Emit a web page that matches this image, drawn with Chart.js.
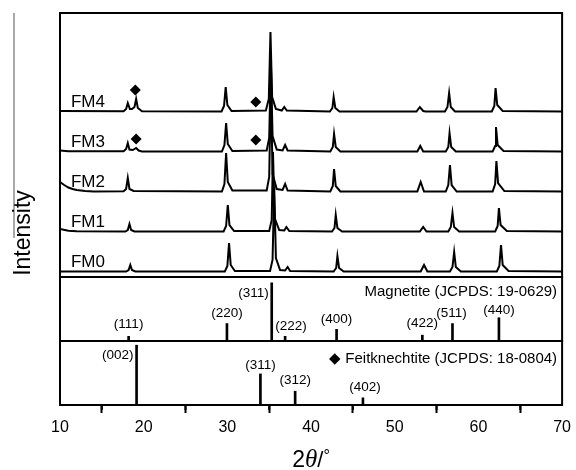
<!DOCTYPE html>
<html>
<head>
<meta charset="utf-8">
<script src="https://cdn.jsdelivr.net/npm/chart.js@4.4.1/dist/chart.umd.min.js"></script>
<style>
  html, body { margin: 0; padding: 0; background: #fff; }
</style>
</head>
<body>
<canvas id="xrd" width="576" height="470"></canvas>
<script>
// Muestras, de abajo hacia arriba
const sampleNames = ['FM0', 'FM1', 'FM2', 'FM3', 'FM4'];
const sampleOffsets = [0, 40, 80, 120, 160];

// Difractogramas [2θ, intensidad relativa a la línea base]
const fm0 = [[10,0.5],[17.9,0.5],[18.2,2],[18.4,7],[18.6,2],[19,0.5],
  [29.7,0.5],[30.0,6],[30.2,29],[30.4,7],[30.9,1],
  [35.1,1],[35.4,12],[35.6,85],[35.8,14],[36.3,2],[36.9,1.5],[37.2,5],[37.5,1],
  [42.7,0.5],[43.0,4],[43.15,16],[43.35,4],[43.9,0.5],
  [53.1,0.5],[53.5,7],[53.9,0.5],
  [56.6,0.5],[56.9,5],[57.1,20],[57.3,5],[57.9,0.5],
  [62.2,0.5],[62.5,6],[62.7,27],[62.9,7],[63.6,1],[70,0.5]];

const fm1 = [[10,3],[11,1.2],[12,0.7],[17.8,0.5],[18.1,2],[18.3,8],[18.5,2],[18.9,0.5],
  [29.55,0.5],[29.85,6],[30.05,27],[30.25,7],[30.8,1],
  [35.0,1],[35.3,12],[35.45,80],[35.65,14],[36.2,2],[36.8,1.5],[37.05,5],[37.4,1],
  [42.5,0.5],[42.8,4],[42.95,17],[43.15,4],[43.7,0.5],
  [53.0,0.5],[53.4,5],[53.8,0.5],
  [56.4,0.5],[56.7,5],[56.9,19],[57.1,5],[57.7,0.5],
  [62.0,0.5],[62.3,6],[62.45,24],[62.65,7],[63.4,1],[70,0.5]];

const fm2 = [[10,10],[10.5,7],[11,4.5],[11.5,3],[12,2],[13,1],[14,0.5],
  [17.6,0.8],[17.9,3],[18.1,14],[18.3,3],[18.8,1],
  [29.35,0.5],[29.65,8],[29.85,39],[30.05,10],[30.6,1.5],
  [34.7,1.5],[35.0,15],[35.2,110],[35.4,18],[35.9,3],[36.6,2],[36.9,8],[37.2,1.5],
  [42.3,0.5],[42.6,6],[42.75,23],[42.95,6],[43.5,0.5],
  [52.7,0.5],[53.1,10],[53.5,0.5],
  [56.1,0.5],[56.4,7],[56.6,27],[56.8,7],[57.4,0.5],
  [61.7,0.5],[62.0,8],[62.15,31],[62.35,9],[63.1,1],[70,0.5]];

const fm3 = [[10,1.5],[11,0.8],[17.6,0.7],[17.9,3],[18.1,9],[18.3,2.5],[18.7,2],[19.1,4],[19.4,1.5],[19.8,0.5],
  [29.35,0.5],[29.65,7],[29.85,29],[30.05,8],[30.6,1],
  [34.7,1.5],[35.0,14],[35.2,90],[35.4,16],[35.9,2.5],[36.6,1.5],[36.9,7],[37.2,1.5],
  [42.3,0.5],[42.6,5],[42.75,18],[42.95,5],[43.5,0.5],
  [52.7,0.5],[53.05,6],[53.4,0.5],
  [56.1,0.5],[56.4,5],[56.55,19],[56.75,5],[57.3,0.5],
  [61.7,0.5],[62.0,6],[62.1,25],[62.3,7],[63.0,1],[70,0.5]];

const fm4 = [[10,1],[17.6,0.7],[17.9,3],[18.1,9],[18.35,3],[18.6,3],[18.9,5],[19.1,13],[19.3,4],[19.8,0.8],
  [29.3,0.5],[29.6,6],[29.8,25],[30.0,7],[30.5,1],
  [34.6,1.5],[34.95,13],[35.15,80],[35.35,15],[35.8,3],[36.5,1.5],[36.8,5],[37.1,1.5],
  [42.25,0.5],[42.55,4],[42.7,15],[42.9,4],[43.4,0.5],
  [52.6,0.5],[53.0,5],[53.4,1],[53.7,0.5],
  [56.0,0.5],[56.3,5],[56.5,19],[56.7,5],[57.2,0.5],
  [61.6,0.5],[61.9,6],[62.05,24],[62.25,7],[62.9,1],[70,0.5]];

const samplePatterns = [fm0, fm1, fm2, fm3, fm4];

// Marcadores ◆ (feitknechtita) sobre FM3 y FM4
const markerSample = [3, 3, 4, 4];
const markerX = [19.1, 33.4, 19.0, 33.4];
const markerY = [13, 12, 22, 10];

// Patrón de referencia: magnetita (JCPDS 19-0629)
const magnetitePos = [18.2, 29.95, 35.3, 36.9, 43.05, 53.3, 56.9, 62.45];
const magnetiteHkl = ['(111)', '(220)', '(311)', '(222)', '(400)', '(422)', '(511)', '(440)'];
const magnetiteInt = [8, 30, 100, 8, 20, 10, 30, 40];

// Patrón de referencia: feitknechtita (JCPDS 18-0804)
const feitPos = [19.15, 33.95, 38.1, 46.2];
const feitHkl = ['(002)', '(311)', '(312)', '(402)'];
const feitInt = [100, 52, 23, 12];

// Ejes
const xTicks = [10, 20, 30, 40, 50, 60, 70];
const xMinorTicks = [15, 25, 35, 45, 55, 65];

// Posición de las etiquetas hkl respecto a la punta de cada barra [dx, dy, align]
const magLabelPos = [[0,-12,'center'],[0,-10,'center'],[-3,10,'right'],[6,-10,'center'],
  [0,-10,'center'],[0,-12,'center'],[-1,-10,'center'],[0,-7,'center']];
const feitLabelPos = [[-3,10,'right'],[0,-9,'center'],[0,-11,'center'],[2,-11,'center']];

const FONT = '"Liberation Sans", Arial, sans-serif';

// Construir datasets
const datasets = [];
samplePatterns.forEach((pts, i) => {
  datasets.push({
    type: 'line',
    label: sampleNames[i],
    data: pts.map(p => ({ x: p[0], y: p[1] + sampleOffsets[i] })),
    yAxisID: 'yT',
    borderColor: '#000',
    borderWidth: 2,
    pointRadius: 0,
    tension: 0,
    fill: false
  });
});

datasets.push({
  type: 'line',
  label: 'markers',
  data: markerX.map((x, i) => ({ x: x, y: markerY[i] + sampleOffsets[markerSample[i]] })),
  yAxisID: 'yT',
  showLine: false,
  pointStyle: 'rectRot',
  pointRadius: 5.5,
  pointBackgroundColor: '#000',
  pointBorderColor: '#000',
  pointBorderWidth: 0
});

datasets.push({
  type: 'bar',
  label: 'Magnetite',
  data: magnetitePos.map((x, i) => ({ x: x, y: magnetiteInt[i] })),
  yAxisID: 'yM',
  backgroundColor: '#000',
  barThickness: 2,
  grouped: false
});

datasets.push({
  type: 'bar',
  label: 'Feitknechtite',
  data: feitPos.map((x, i) => ({ x: x, y: feitInt[i] })),
  yAxisID: 'yF',
  backgroundColor: '#000',
  barThickness: 2,
  grouped: false
});

// Marcos, subticks y textos
const decorPlugin = {
  id: 'decor',
  afterDatasetsDraw(chart) {
    const ctx = chart.ctx;
    const xs = chart.scales.x;
    ctx.save();
    ctx.strokeStyle = '#000';
    ctx.lineWidth = 2;
    ['yT', 'yM', 'yF'].forEach(id => {
      const s = chart.scales[id];
      ctx.strokeRect(xs.left, s.top, xs.right - xs.left, s.bottom - s.top);
    });

    // subticks
    xMinorTicks.forEach(v => {
      const px = xs.getPixelForValue(v);
      ctx.beginPath();
      ctx.moveTo(px, xs.top);
      ctx.lineTo(px, xs.top + 5);
      ctx.stroke();
    });

    ctx.fillStyle = '#000';

    // nombres de muestras
    const yT = chart.scales.yT;
    ctx.font = '17px ' + FONT;
    ctx.textAlign = 'left';
    ctx.textBaseline = 'alphabetic';
    sampleNames.forEach((n, i) => {
      ctx.fillText(n, xs.getPixelForValue(11.3), yT.getPixelForValue(sampleOffsets[i]) - 5);
    });

    // etiquetas hkl
    ctx.font = '13.5px ' + FONT;
    ctx.textBaseline = 'middle';
    const yM = chart.scales.yM;
    magnetiteHkl.forEach((t, i) => {
      const o = magLabelPos[i];
      ctx.textAlign = o[2];
      ctx.fillText(t, xs.getPixelForValue(magnetitePos[i]) + o[0], yM.getPixelForValue(magnetiteInt[i]) + o[1]);
    });
    const yF = chart.scales.yF;
    feitHkl.forEach((t, i) => {
      const o = feitLabelPos[i];
      ctx.textAlign = o[2];
      ctx.fillText(t, xs.getPixelForValue(feitPos[i]) + o[0], yF.getPixelForValue(feitInt[i]) + o[1]);
    });

    // nombres de fases
    ctx.font = '15px ' + FONT;
    ctx.textAlign = 'right';
    ctx.fillText('Magnetite (JCPDS: 19-0629)', xs.right - 5, yM.top + 15);
    ctx.fillText('\u25C6 Feitknechtite (JCPDS: 18-0804)', xs.right - 5, yF.top + 18);
    ctx.restore();
  },
  afterDraw(chart) {
    const ctx = chart.ctx;
    const xs = chart.scales.x;
    const area = chart.chartArea;
    ctx.save();
    // línea gris a la izquierda
    ctx.strokeStyle = '#8c8c8c';
    ctx.lineWidth = 1.5;
    ctx.beginPath();
    ctx.moveTo(14, area.top);
    ctx.lineTo(14, area.top + 225);
    ctx.stroke();

    // título eje Y
    ctx.fillStyle = '#000';
    ctx.translate(24, area.top + 220);
    ctx.rotate(-Math.PI / 2);
    ctx.font = '23px ' + FONT;
    ctx.textAlign = 'center';
    ctx.textBaseline = 'middle';
    ctx.fillText('Intensity', 0, 0);
    ctx.restore();

    // título eje X: 2θ/°
    ctx.save();
    ctx.fillStyle = '#000';
    ctx.textBaseline = 'alphabetic';
    ctx.textAlign = 'left';
    const parts = [
      ['2', '23px ' + FONT],
      ['\u03B8', 'italic 25px "Liberation Serif", "Times New Roman", serif'],
      ['/', '22px ' + FONT],
      ['\u00B0', '16px ' + FONT]
    ];
    let total = 0;
    parts.forEach(p => { ctx.font = p[1]; total += ctx.measureText(p[0]).width; });
    let x = (xs.left + xs.right) / 2 - total / 2;
    const y = 467;
    parts.forEach(p => {
      ctx.font = p[1];
      ctx.fillText(p[0], x, p[0] === '\u00B0' ? y - 6 : y);
      x += ctx.measureText(p[0]).width;
    });
    ctx.restore();
  }
};

new Chart(document.getElementById('xrd'), {
  type: 'line',
  data: { datasets: datasets },
  options: {
    responsive: false,
    devicePixelRatio: 1,
    animation: false,
    layout: { padding: { left: 60, right: 11, top: 13, bottom: 35 } },
    plugins: { legend: { display: false }, tooltip: { enabled: false } },
    scales: {
      x: {
        type: 'linear',
        position: 'bottom',
        min: 10,
        max: 70,
        offset: false,
        afterBuildTicks: s => { s.ticks = xTicks.map(v => ({ value: v })); },
        afterFit: s => { s.height = 30; },
        ticks: { color: '#000', font: { family: FONT, size: 16 }, padding: 5, maxRotation: 0 },
        grid: { drawOnChartArea: false, drawTicks: true, tickLength: 8, tickWidth: 2, tickColor: '#000' },
        border: { display: true, color: '#000', width: 2 }
      },
      yF: { type: 'linear', position: 'left', stack: 'xrd', stackWeight: 64, min: 0, max: 107, display: false },
      yM: { type: 'linear', position: 'left', stack: 'xrd', stackWeight: 64, min: 0, max: 110, display: false },
      yT: { type: 'linear', position: 'left', stack: 'xrd', stackWeight: 264, min: -5, max: 259, display: false }
    }
  },
  plugins: [decorPlugin]
});
</script>
</body>
</html>
